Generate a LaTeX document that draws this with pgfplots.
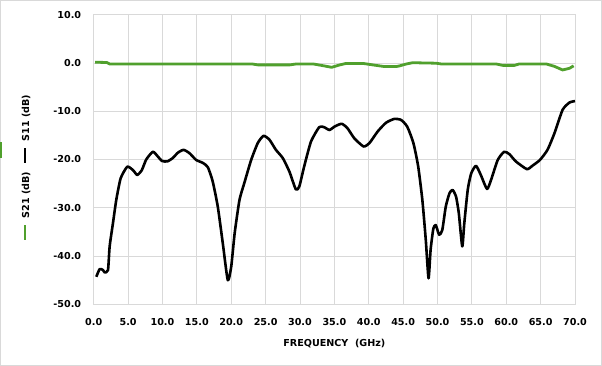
\documentclass[border=0pt]{standalone}
\usepackage{pgfplots}
\pgfplotsset{compat=1.18}
\usepackage{fontspec}
\setmainfont{DejaVu Sans}
\definecolor{sgreen}{RGB}{80,160,45}
\definecolor{gridc}{RGB}{217,217,217}
\begin{document}
\begin{tikzpicture}[x=1pt,y=1pt]
\path[use as bounding box] (0,0) rectangle (602,366);
\draw[gridc, line width=0.8pt] (0.5,0.5) rectangle (601.5,365.5);
\begin{axis}[
  at={(93.7pt,61.7pt)}, anchor=south west,
  scale only axis, width=481.3pt, height=289.6pt,
  xmin=0, xmax=70, ymin=-50, ymax=10,
  xtick={0,5,...,70}, ytick={-50,-40,...,10},
  grid=major, grid style={gridc, line width=0.8pt},
  axis line style={gridc, line width=0.8pt},
  major tick length=0pt,
  tick label style={font=\fontsize{9.6}{11.5}\selectfont\bfseries, text=black},
  /pgf/number format/.cd, assume math mode=true, fixed, fixed zerofill, precision=1,
  /pgfplots/.cd,
  xticklabel style={yshift=-11pt},
  yticklabel style={xshift=-9pt},
  xlabel={FREQUENCY\ \ (GHz)},
  xlabel style={font=\fontsize{9.6}{11.5}\selectfont\bfseries, yshift=-6pt},
  clip=false,
]
\addplot[sgreen, line width=2.8pt, line join=round] coordinates {
(0.2,0.15) (1.9,0.1) (2.3,-0.2) (23.0,-0.2) (23.9,-0.4) (28.5,-0.4) (29.5,-0.2)
(31.9,-0.2) (33.3,-0.55) (34.6,-0.9) (35.8,-0.4) (36.7,-0.1) (39.2,-0.1) (40.6,-0.4)
(42.3,-0.75) (44.0,-0.75) (44.5,-0.6) (45.5,-0.2) (46.4,0.05) (49.8,-0.05) (50.5,-0.2)
(58.5,-0.2) (59.5,-0.5) (61.2,-0.5) (61.9,-0.2) (65.8,-0.2) (67.0,-0.7) (68.2,-1.45)
(69.2,-1.1) (69.8,-0.6)
};
\addplot[black, line width=2.6pt, line join=round, smooth, tension=0.35] coordinates {
(0.38,-44.3) (0.87,-42.7) (1.35,-42.9) (1.6,-43.4) (2.08,-42.9) (2.32,-38.0)
(2.8,-33.2) (3.28,-28.4) (3.92,-23.9) (4.88,-21.5) (5.71,-22.2) (6.33,-23.2)
(7.0,-22.2) (7.64,-20.0) (8.61,-18.4) (9.34,-19.4) (9.92,-20.3) (10.7,-20.4)
(11.5,-19.7) (12.24,-18.6) (13.07,-18.0) (13.94,-18.7) (14.9,-20.1) (15.87,-20.7)
(16.6,-21.6) (17.3,-24.5) (18.05,-29.8) (18.78,-37.4) (19.5,-45.0) (20.0,-42.2)
(20.5,-35.3) (21.2,-28.4) (21.9,-24.9) (22.9,-20.1) (23.86,-16.6) (24.7,-15.1)
(25.56,-15.9) (26.5,-18.0) (27.5,-19.7) (28.46,-22.5) (29.4,-26.2) (29.9,-25.6)
(30.6,-21.5) (31.6,-16.3) (32.8,-13.3) (33.5,-13.3) (34.3,-13.9) (35.0,-13.2)
(36.06,-12.6) (36.9,-13.5) (37.9,-15.6) (39.25,-17.3) (40.1,-16.6) (41.3,-14.2)
(42.5,-12.4) (43.7,-11.6) (44.7,-11.8) (45.6,-13.2) (46.5,-16.6) (47.2,-21.5)
(47.8,-28.4) (48.3,-36.7) (48.7,-44.6) (49.0,-38.7) (49.4,-34.3) (49.75,-33.6)
(50.25,-35.6) (50.7,-34.6) (51.2,-29.8) (51.74,-27.0) (52.2,-26.3) (52.7,-27.7)
(53.1,-31.1) (53.6,-38.0) (53.9,-33.2) (54.4,-26.3) (54.9,-22.9) (55.6,-21.3)
(56.3,-23.2) (57.2,-26.1) (57.8,-24.2) (58.76,-20.1) (59.7,-18.4) (60.46,-18.9)
(61.4,-20.4) (63.0,-22.0) (63.8,-21.3) (64.9,-20.1) (66.0,-18.0) (67.0,-14.6)
(68.2,-9.7) (69.2,-8.2) (70,-7.9)
};
\end{axis}
% legend (vertical, left side)
\draw[sgreen, line width=2.5pt] (25,126) -- (25,141);
\node[rotate=90, font=\fontsize{9.6}{11.5}\selectfont\bfseries, inner sep=0pt] at (26,171) {S21 (dB)};
\draw[black, line width=2.5pt] (25,203) -- (25,218);
\node[rotate=90, font=\fontsize{9.6}{11.5}\selectfont\bfseries, inner sep=0pt] at (26,248) {S11 (dB)};
\fill[sgreen] (0,208) rectangle (2,224);
\end{tikzpicture}
\end{document}
